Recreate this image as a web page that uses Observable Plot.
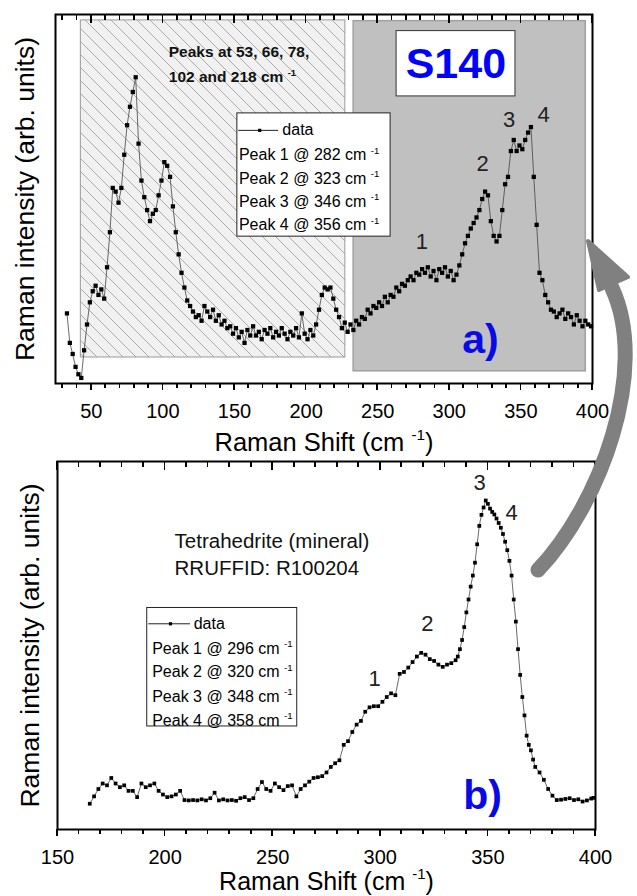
<!DOCTYPE html>
<html><head><meta charset="utf-8">
<script src="https://cdn.jsdelivr.net/npm/d3@7"></script>
<script src="https://cdn.jsdelivr.net/npm/@observablehq/plot@0.6"></script>
<style>
body{margin:0;background:#fff;}
#fig{position:relative;width:637px;height:896px;overflow:hidden;font-family:"Liberation Sans",Arial,sans-serif;}
#fig svg{display:block;}
#arrow{position:absolute;left:0;top:0;pointer-events:none;}
</style></head><body><div id="fig"></div>
<script>
// ---------- data: panel a) sample S140 ----------
const sampleShift = [
 33,35,37,39,41,43,45,47,49,51,
 53,55,57,59,61,63,65,67,69,71,
 73,75,77,79,81,83,85,87,89,91,
 93,95,97,99,101,103,105,107,109,111,
 113,115,117,119,121,123,125,127,129,131,
 133,135,137,139,141,143,145,147,149,151,
 153,155,157,159,161,163,165,167,169,171,
 173,175,177,179,181,183,185,187,189,191,
 193,195,197,199,201,203,205,207,209,211,
 213,215,217,219,221,223,225,227,229,231,
 233,235,237,239,241,243,245,247,249,251,
 253,255,257,259,261,263,265,267,269,271,
 273,275,277,279,281,283,285,287,289,291,
 293,295,297,299,301,303,305,307,309,311,
 313,315,317,319,321,323,325,327,329,331,
 333,335,337,339,341,343,345,347,349,351,
 353,355,357,359,361,363,365,367,369,371,
 373,375,377,379,381,383,385,387,389,391,
 393,395,397,399];
const sampleIntensity = [
 19,11,8,4.5,2.5,1.5,9,16,22,25,
 26.5,24,25.5,23,31.5,41,53,52,49,53,
 62,70,75,79,83,65,55,50.5,47,44,
 46,47,51,55,60,59,56,48,41,35,
 30,26,22.5,21,19.5,18,18.5,17,21,19.5,
 18,20,17,18.5,16,17,15,15.5,13.5,15,
 12.5,14,11,14.5,13,15.5,13,14,12,14.5,
 13.5,15,12.5,14,13,15,13.5,12,14,13,
 15,12.5,19,13.5,12,14.5,13,16,20,24,
 26,25.5,26,23,20,18,15,16.5,14,16,
 14.5,17,16,18,17.5,20,19,21,20.5,22,
 21,23.5,22,24,23.5,26,25,27,26.5,28,
 29,28,30,29.5,31,30,31.5,29,30.5,28,
 31,30,31.5,29,30.5,28,29.5,32,35,38,
 40,42,43.5,45,47,50,52,51,44,40,
 38.5,40,47,54,56,63,66,63,64.5,63.5,
 66,68,69.5,56,43,30,28,24,22,20,
 19.5,18,19,20,17.5,19,18,16,18.5,17,
 15.5,17,16,15.5];
const samplePeaks = [282, 323, 346, 356];
const lowPeaks = [53, 66, 78, 102, 218];

// ---------- data: panel b) tetrahedrite reference ----------
const refShift = [
 165,167,169,171,173,175,177,179,181,183,
 185,187,189,191,193,195,197,199,201,203,
 205,207,209,211,213,215,217,219,221,223,
 225,227,229,231,233,235,237,239,241,243,
 245,247,249,251,253,255,257,259,261,263,
 265,267,269,271,273,275,277,279,281,283,
 285,287,289,291,293,295,297,299,301,303,
 305,307,309,311,313,315,317,319,321,323,
 325,327,329,331,333,335,
 336,337,338,339,340,341,342,343,344,345,
 346,347,348,349,350,351,352,353,354,355,
 356,357,358,359,360,361,362,363,364,365,
 366,367,368,369,370,371,372,
 374,376,378,380,382,384,386,388,390,392,394,396,398,399];
const refIntensity = [
 7,9,11,12.5,12,14,12.5,11.5,12,10.5,
 10.5,8.8,12.5,11.5,12,12.5,10.5,9.5,8.8,9,
 9.5,10.5,8,7.9,8,7.9,8.2,7.9,8.5,10,
 7.9,8.2,7.9,8,7.8,8.5,8.8,8,8.5,11,
 12.9,11,10.5,12.5,11.5,10.7,11.8,12,9,11,
 12,13,14,14.2,14.5,15.5,17,18,18.8,23,
 24,26.5,28.5,29.5,32,33.2,33.5,33.5,34.7,36,
 37,36.5,42.3,42.8,44,45.5,47,48,47.5,46.3,
 45.8,44.8,44.2,44.8,45.2,46,
 47,49,51.5,55,59,62.5,66,69,72.5,77.5,
 82.5,85.5,87.5,89.4,88.5,87.2,86.3,85.6,84.5,83.3,
 82,80.3,78.2,75.9,73,69,62.5,56.5,49,42,
 36,31,25.5,23,21.5,19,17,
 15.5,13.5,11,9.2,8,8.1,8.3,8.5,8,8.2,7.6,7.9,8.4,8.6];
const refPeaks = [296, 320, 348, 358];

// ---------- ticks & text ----------
const topMajor = [50,100,150,200,250,300,350,400];
const topMinor = [30,40,60,70,80,90,110,120,130,140,160,170,180,190,210,220,230,240,260,270,280,290,310,320,330,340,360,370,380,390];
const botMajor = [150,200,250,300,350,400];
const botMinor = [160,170,180,190,210,220,230,240,260,270,280,290,310,320,330,340,360,370,380,390];
const xTitle = "Raman Shift (cm ^-1)";
const yTitle = "Raman intensity (arb. units)";
const peakNumbers = ["1","2","3","4"];

const sample = sampleShift.map((x,i) => ({x, y: sampleIntensity[i]}));
const ref = refShift.map((x,i) => ({x, y: refIntensity[i]}));
const peakLabel = (p,i) => `Peak ${i+1} @ ${p} cm ^-1`;

const FONT = "'Liberation Sans', Arial, sans-serif";

function legendMarks(labels, o) {
  return [
    Plot.rect([0], {x1: o.box[0], x2: o.box[1], y1: o.box[2], y2: o.box[3], fill: "white", stroke: "#222", strokeWidth: 1}),
    Plot.ruleY([o.rows[0]], {x1: o.line[0], x2: o.line[1], stroke: "#222", strokeWidth: 1}),
    Plot.dot([o.rows[0]], {x: o.line[2], y: d => d, symbol: "square", r: 1.8, fill: "black"}),
    Plot.text(["data"], {x: o.dataX, y: o.rows[0], textAnchor: "start", fontSize: 16, fill: "black"}),
    Plot.text(labels, {x: o.textX, y: (d,i) => o.rows[i+1], textAnchor: "start", fontSize: 16, fill: "black"})
  ];
}

function axisLabels(major) {
  return Plot.axisX(major, {anchor: "bottom", tickSize: 0, tickPadding: 20, fontSize: 20, label: null, tickFormat: d => String(d), color: "black"});
}

const topPlot = Plot.plot({
  width: 637, height: 450,
  marginLeft: 55, marginRight: 45, marginTop: 14, marginBottom: 67,
  style: {fontFamily: FONT, background: "white", color: "black", overflow: "visible"},
  x: {domain: [25, 400]},
  y: {domain: [0, 100], axis: null},
  marks: [
    Plot.rect([0], {x1: 42.7, x2: 227.4, y1: 7.05, y2: 98.4, fill: "url(#hatch)", stroke: "#9a9a9a", strokeWidth: 1}),
    Plot.rect([0], {x1: 233.2, x2: 395.3, y1: 3.3, y2: 98.2, fill: "#c0c0c0", stroke: "#a0a0a0", strokeWidth: 1.5}),
    Plot.rect([0], {x1: 263.2, x2: 346.2, y1: 77.8, y2: 95.5, fill: "white", stroke: "#333", strokeWidth: 1}),
    Plot.text(["S140"], {x: 304.6, y: 86.4, fontSize: 43, fontWeight: "bold", fill: "#0000ff"}),
    ...legendMarks(samplePeaks.map(peakLabel), {box: [152.0, 259.0, 39.8, 73.2], rows: [68.6, 61.9, 55.5, 49.2, 42.9], line: [152.9, 180.8, 167.6], dataX: 183.4, textX: 153.1}),
    Plot.text([`Peaks at ${lowPeaks.slice(0,3).join(", ")},`], {x: 104.1, y: 89.8, textAnchor: "start", fontSize: 15.5, fontWeight: "bold", fill: "#111"}),
    Plot.text([`${lowPeaks[3]} and ${lowPeaks[4]} cm ^-1`], {x: 104.1, y: 83.0, textAnchor: "start", fontSize: 15.5, fontWeight: "bold", fill: "#111"}),
    Plot.line(sample, {x: "x", y: "y", stroke: "#444", strokeWidth: 0.8}),
    Plot.dot(sample, {x: "x", y: "y", symbol: "square", r: 2.4, fill: "black"}),
    Plot.text(peakNumbers, {x: (d,i) => [280.8, 323.2, 341.8, 365.8][i], y: (d,i) => [38.3, 59.6, 71.3, 72.7][i], fontSize: 22, fill: "#222"}),
    Plot.text(["a)"], {x: 321.8, y: 8.4, lineAnchor: "bottom", fontSize: 41, fontWeight: "bold", fill: "#0a0ae6"}),
    Plot.text([xTitle], {frameAnchor: "bottom", dy: 59, textAnchor: "middle", lineAnchor: "middle", fontSize: 25.5, fill: "black"}),
    Plot.text([yTitle], {frameAnchor: "left", dx: -30, rotate: -90, textAnchor: "middle", lineAnchor: "middle", fontSize: 26.5, fill: "black"}),
    Plot.frame({stroke: "black", strokeWidth: 2}),
    axisLabels(topMajor)
  ]
});

const bottomPlot = Plot.plot({
  width: 637, height: 446,
  marginLeft: 57, marginRight: 42, marginTop: 11, marginBottom: 67,
  style: {fontFamily: FONT, background: "white", color: "black", overflow: "visible"},
  x: {domain: [150, 400]},
  y: {domain: [0, 100], axis: null},
  marks: [
    Plot.text(["Tetrahedrite (mineral)"], {x: 204.4, y: 78.3, textAnchor: "start", fontSize: 20.5, fill: "#111"}),
    Plot.text(["RRUFFID: R100204"], {x: 204.4, y: 70.9, textAnchor: "start", fontSize: 20.5, fill: "#111"}),
    ...legendMarks(refPeaks.map(peakLabel), {box: [191.7, 261.4, 28.0, 60.2], rows: [55.9, 49.1, 42.7, 36.0, 29.6], line: [192.4, 211.8, 202.5], dataX: 213.3, textX: 194.0}),
    Plot.line(ref, {x: "x", y: "y", stroke: "#444", strokeWidth: 0.8}),
    Plot.dot(ref, {x: "x", y: "y", symbol: "square", r: 2.1, fill: "black"}),
    Plot.text(peakNumbers, {x: (d,i) => [297.4, 321.9, 346.2, 361][i], y: (d,i) => [40.8, 55.9, 94.2, 86.0][i], fontSize: 22, fill: "#222"}),
    Plot.text(["b)"], {x: 347.5, y: 5.7, lineAnchor: "bottom", fontSize: 41, fontWeight: "bold", fill: "#0a0ae6"}),
    Plot.text([xTitle], {frameAnchor: "bottom", dy: 52, textAnchor: "middle", lineAnchor: "middle", fontSize: 25, fill: "black"}),
    Plot.text([yTitle], {frameAnchor: "left", dx: -27, rotate: -90, textAnchor: "middle", lineAnchor: "middle", fontSize: 26.5, fill: "black"}),
    Plot.frame({stroke: "black", strokeWidth: 2}),
    axisLabels(botMajor)
  ]
});

const fig = document.getElementById("fig");
fig.appendChild(topPlot);
fig.appendChild(bottomPlot);

// tick marks placed with each plot's own x scale: outward at the bottom edge, inward at the top edge
function drawTicks(plot, major, minor) {
  const xs = plot.scale("x"), ys = plot.scale("y");
  const yb = Math.max(...ys.range), yt = Math.min(...ys.range);
  const g = d3.select(plot).append("g").attr("stroke", "#000").attr("stroke-width", 1.7).attr("shape-rendering", "crispEdges");
  const add = (vals, y1, y2) => vals.forEach(v => {
    const px = xs.apply(v);
    g.append("line").attr("x1", px).attr("x2", px).attr("y1", y1).attr("y2", y2);
  });
  add(major, yb, yb + 7);
  add(minor, yb, yb + 4.5);
  add(major, yt, yt + 9);
  add(minor, yt, yt + 5.5);
}
drawTicks(topPlot, topMajor, topMinor);
drawTicks(bottomPlot, botMajor, botMinor);

// hatch pattern for the low-frequency region
const T = 13;
const defs = d3.select(topPlot).insert("defs", ":first-child");
const pat = defs.append("pattern").attr("id", "hatch").attr("patternUnits", "userSpaceOnUse").attr("width", T).attr("height", T);
pat.append("rect").attr("width", T).attr("height", T).attr("fill", "#f1f1f1");
pat.append("path").attr("d", `M-1,-1L${T+1},${T+1}M${T-1},-1L${T+1},1M-1,${T-1}L1,${T+1}`).attr("stroke", "#a2a2a2").attr("stroke-width", 0.9);

// superscript "-1"
const NS = "http://www.w3.org/2000/svg";
fig.querySelectorAll("text").forEach(t => {
  const s = t.textContent;
  if (!s.includes("^")) return;
  const fs = parseFloat(getComputedStyle(t).fontSize) || 16;
  const m = s.match(/^(.*?)\^(-1)(.*)$/);
  if (!m) return;
  t.textContent = "";
  const a = document.createElementNS(NS, "tspan"); a.textContent = m[1]; t.appendChild(a);
  const b = document.createElementNS(NS, "tspan"); b.textContent = m[2];
  b.setAttribute("font-size", (fs * 0.6).toFixed(1)); b.setAttribute("dy", (-fs * 0.42).toFixed(1)); t.appendChild(b);
  if (m[3]) { const c = document.createElementNS(NS, "tspan"); c.textContent = m[3]; c.setAttribute("dy", (fs * 0.42).toFixed(1)); t.appendChild(c); }
});

// curved grey arrow linking b) to a)
const arrow = d3.select(fig).append("svg").attr("id", "arrow").attr("width", 637).attr("height", 896);
arrow.append("path").attr("d", "M538,570 C600,505 650,370 612,288").attr("fill", "none").attr("stroke", "#808080").attr("stroke-width", 15).attr("stroke-linecap", "round");
arrow.append("path").attr("d", "M588,241 L599,290 L628,277 Z").attr("fill", "#808080").attr("stroke", "#808080").attr("stroke-width", 4).attr("stroke-linejoin", "round");
</script></body></html>
